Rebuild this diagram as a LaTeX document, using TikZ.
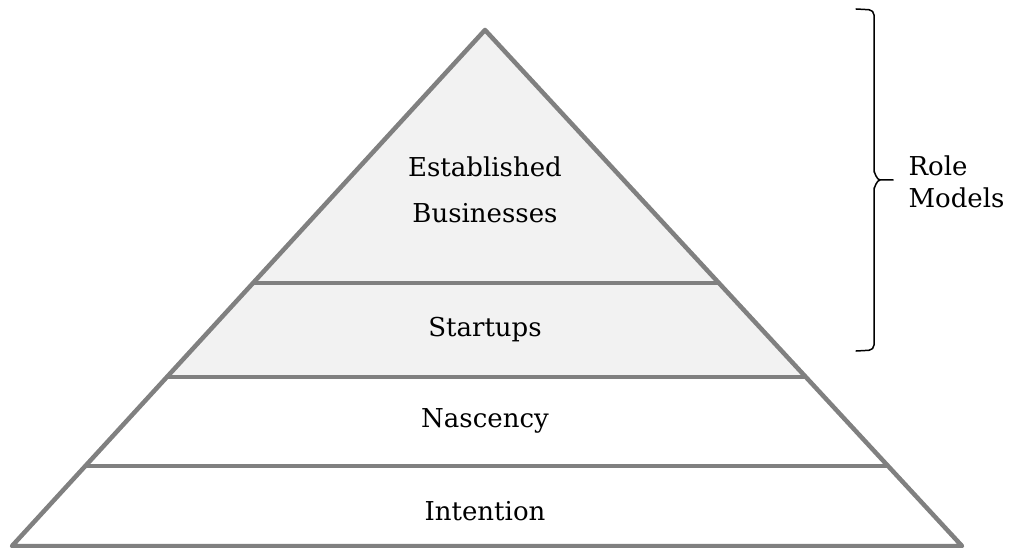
\documentclass[tikz,border=0pt]{standalone}
\usepackage{fontspec}
\setmainfont{DejaVu Serif}
\usetikzlibrary{calc}
\begin{document}
\begin{tikzpicture}[x=1pt,y=-1pt,line join=round,line cap=round,
	pyr/.style={draw=black!50,line width=4.5pt},
	level/.style={font=\fontsize{26}{46}\selectfont,align=center},
	role/.style={font=\fontsize{26}{32}\selectfont,align=left,anchor=west}]
	\useasboundingbox (0,0) rectangle (1011,548);
	\coordinate (A) at (485,30);
	\coordinate (L) at (12,546);
	\coordinate (R) at (962,546);
	\foreach \n/\t in {1/0.4903,2/0.6725,3/0.845}{
		\coordinate (l\n) at ($(A)!\t!(L)$);
		\coordinate (r\n) at ($(A)!\t!(R)$);}
	\fill[black!5] (A)--(l2)--(r2)--cycle;
	\draw[pyr] (A)--(L)--(R)--cycle;
	\foreach \n in {1,2,3}
	\draw[pyr,line cap=butt] (l\n)--(r\n);
	\node[level] (est) at (485,190) {Established\\Businesses};
	\node[level] (start) at (485,330) {Startups};
	\node[level] (nasc) at (485,421) {Nascency};
	\node[level] (int) at (485,511) {Intention};
	% brace for the top two levels
	\coordinate (bt) at (856,9);
	\coordinate (bb) at (856,351);
	\coordinate (tip) at (893,180);
	\draw[line width=1.5pt,rounded corners=5pt] (bt)--(874,10)--(874,175)
		to[out=90,in=180,rounded corners=0pt] (880,180)--(tip);
	\draw[line width=1.5pt,rounded corners=5pt] (bb)--(874,350)--(874,185)
		to[out=-90,in=180,rounded corners=0pt] (880,180);
	\node[role] (rm) at (905,182) {Role\\Models};
\end{tikzpicture}
\end{document}
